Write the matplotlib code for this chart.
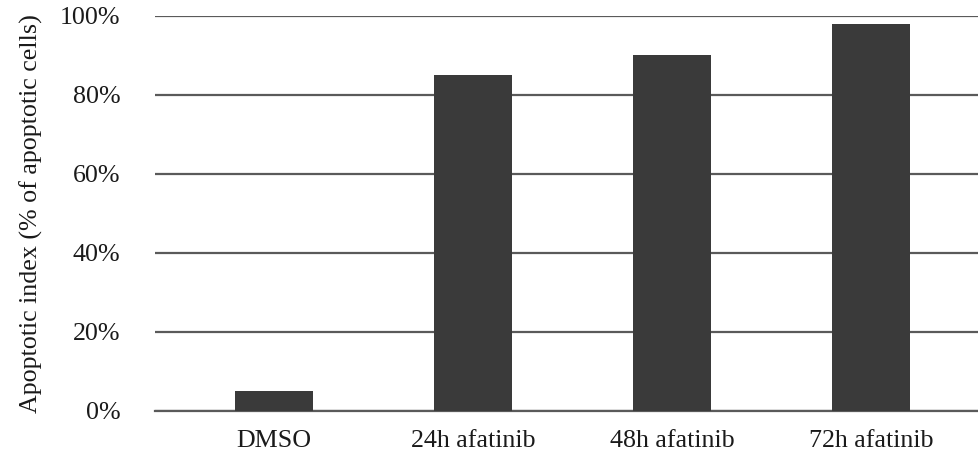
import matplotlib
matplotlib.use("Agg")
import matplotlib.pyplot as plt
from matplotlib.ticker import FuncFormatter

categories = ["DMSO", "24h afatinib", "48h afatinib", "72h afatinib"]
values = [5, 85, 90, 98]
yticks = [0, 20, 40, 60, 80, 100]

plt.rcParams['font.family'] = ['Liberation Serif', 'DejaVu Serif']

fig = plt.figure(figsize=(9.79, 4.55), dpi=100)
W, H = 979, 455
left, right = 155, 979
bottom, top = 410.5, 16
ax = fig.add_axes([left / W, (H - bottom) / H, (right - left) / W, (bottom - top) / H])

x = list(range(len(categories)))
ax.bar(x, values, width=0.39, color="#3a3a3a", zorder=3)

ax.set_ylim(0, 100)
ax.set_xlim(-0.598, 3.543)
ax.set_yticks(yticks)
ax.yaxis.set_major_formatter(FuncFormatter(lambda v, p: f"{int(v)}%"))
ax.set_xticks(x)
ax.set_xticklabels(categories)
ax.grid(axis="y", color="#5a5a5a", linewidth=1.6, zorder=0)
ax.set_axisbelow(True)
for s in ["top", "right", "left"]:
    ax.spines[s].set_visible(False)
ax.spines["bottom"].set_color("#5a5a5a")
ax.spines["bottom"].set_linewidth(1.6)
ax.tick_params(axis="both", length=0, labelsize=18.7, colors="#1a1a1a")
ax.tick_params(axis="y", pad=25)
ax.tick_params(axis="x", pad=14)
ax.set_ylabel("Apoptotic index (% of apoptotic cells)", fontsize=18.7, color="#1a1a1a", labelpad=12)

fig.savefig("out.png", dpi=100)
